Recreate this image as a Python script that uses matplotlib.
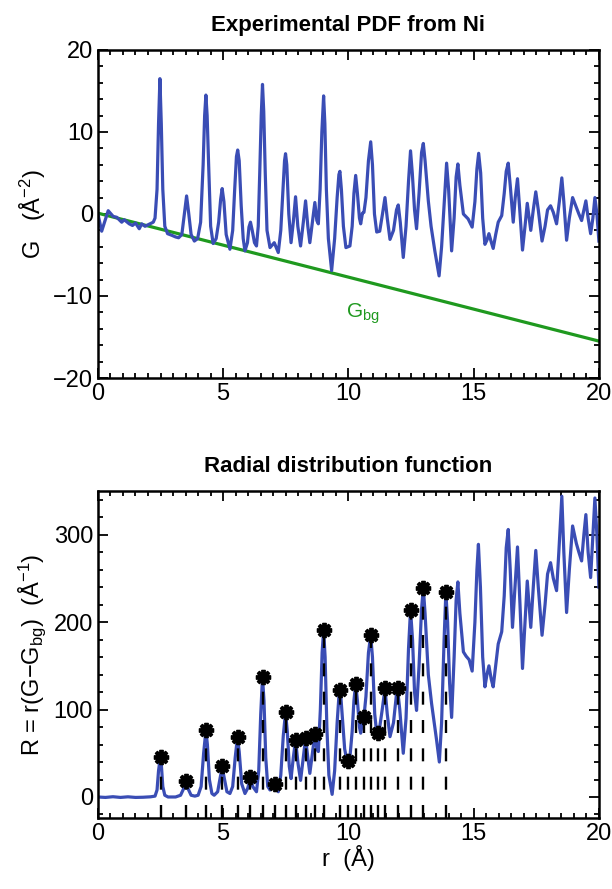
import numpy as np
import matplotlib
matplotlib.use('Agg')
import matplotlib.pyplot as plt
from matplotlib.ticker import MultipleLocator

plt.rcParams['font.family'] = ['Liberation Sans', 'DejaVu Sans']
plt.rcParams['mathtext.fontset'] = 'custom'
plt.rcParams['mathtext.rm'] = 'Liberation Sans'
plt.rcParams['mathtext.it'] = 'Liberation Sans'

# experimental G(r)
r_top = [0.0, 0.15, 0.41, 0.61, 0.75, 0.95, 1.05, 1.25, 1.38, 1.50, 1.65, 1.75, 1.88, 2.08, 2.21,
         2.28, 2.36, 2.42, 2.475, 2.53, 2.59, 2.67, 2.78, 2.95, 3.10, 3.22, 3.35, 3.45, 3.54, 3.62,
         3.72, 3.85, 3.98, 4.10, 4.20, 4.26, 4.31, 4.36, 4.42, 4.50, 4.60, 4.72, 4.82, 4.90, 4.96,
         5.03, 5.12, 5.27, 5.38, 5.46, 5.53, 5.58, 5.64, 5.72, 5.80, 5.87, 5.97, 6.03, 6.09, 6.16,
         6.25, 6.33, 6.40, 6.46, 6.52, 6.57, 6.62, 6.68, 6.75, 6.87, 7.04, 7.20, 7.30, 7.38, 7.45,
         7.49, 7.54, 7.62, 7.71, 7.80, 7.89, 7.98, 8.09, 8.20, 8.29, 8.38, 8.46, 8.56, 8.66, 8.74,
         8.80, 8.87, 8.94, 9.01, 9.06, 9.12, 9.20, 9.33, 9.45, 9.55, 9.62, 9.66, 9.72, 9.80, 9.90,
         10.06, 10.15, 10.22, 10.29, 10.36, 10.44, 10.49, 10.56, 10.62, 10.70, 10.80, 10.89, 10.96,
         11.04, 11.13, 11.25, 11.36, 11.46, 11.55, 11.66, 11.80, 11.92, 11.99, 12.07, 12.19, 12.30,
         12.40, 12.48, 12.55, 12.64, 12.72, 12.82, 12.92, 12.99, 13.06, 13.19, 13.30, 13.45, 13.62,
         13.72, 13.82, 13.92, 14.00, 14.12, 14.22, 14.30, 14.37, 14.45, 14.59, 14.78, 14.94, 15.05,
         15.13, 15.20, 15.28, 15.36, 15.45, 15.53, 15.61, 15.70, 15.78, 15.88, 15.98, 16.12, 16.22,
         16.30, 16.38, 16.46, 16.58, 16.66, 16.75, 16.84, 16.95, 17.05, 17.14, 17.28, 17.38, 17.48,
         17.58, 17.73, 17.85, 17.95, 18.07, 18.18, 18.31, 18.42, 18.52, 18.60, 18.71, 18.82, 18.95,
         19.10, 19.20, 19.31, 19.40, 19.48, 19.57, 19.67, 19.76, 19.84, 19.92, 20.0]
G_top = [0.0, -2.1, 0.4, -0.3, -0.4, -1.0, -0.7, -1.2, -1.4, -1.1, -1.8, -1.2, -1.5, -1.2, -1.0,
         -0.5, 3.0, 11.0, 16.5, 11.0, 3.0, -1.5, -2.4, -2.6, -2.8, -2.9, -2.5, 0.0, 2.2, 0.2,
         -2.5, -3.3, -3.0, -1.0, 6.0, 12.0, 14.5, 12.0, 6.0, -1.5, -3.6, -3.0, -1.0, 1.8, 3.1,
         1.5, -2.5, -4.3, -2.0, 3.0, 7.0, 7.8, 6.5, 1.0, -3.0, -4.5, -3.5, -1.6, -1.0, -2.0,
         -3.5, -3.9, -1.5, 5.0, 12.0, 15.8, 12.5, 5.0, -2.0, -4.1, -3.5, -4.7, -2.0, 2.5, 6.5,
         7.35, 6.0, 0.0, -3.5, -1.0, 2.1, -1.5, -3.9, -1.0, 1.6, -1.5, -3.5, -1.0, 1.4, -0.8,
         -1.2, 3.0, 10.0, 14.4, 11.0, 3.0, -3.0, -6.9, -3.0, 2.0, 4.8, 5.2, 3.0, -1.5, -4.1,
         -3.9, -1.5, 2.5, 4.7, 2.5, -0.5, -1.2, 0.1, 0.2, 2.0, 6.5, 8.8, 6.0,
         0.0, -2.2, -2.1, 0.0, 2.0, -0.5, -3.1, -2.0, 0.5, 1.1, -1.0, -5.3, -1.5,
         4.0, 7.7, 5.0, 0.5, -1.8, 2.5, 7.5, 8.6, 6.5, 1.6, -1.5, -4.5, -7.55,
         -4.0, 1.0, 6.2, 3.0, -4.5, -0.5, 4.5, 6.1, 3.5, 0.0, -0.6, -1.6, 1.5,
         5.5, 7.4, 5.0, -0.5, -3.7, -3.2, -2.4, -3.4, -4.2, -2.5, -1.0, -0.2, 2.5,
         5.2, 6.2, 3.5, -1.0, 2.0, 4.3, 0.5, -4.4, -1.5, 1.3, -2.0, 0.5, 2.7,
         0.5, -3.3, -1.5, 0.5, 1.0, 0.2, -1.2, 1.5, 4.4, 1.5, -3.2, -0.5, 2.0,
         0.8, 0.0, -0.8, 0.5, 1.6, -0.5, -2.4, -0.5, 2.0, 0.0, -3.3]

# background line G_bg
r_bg = [0.0, 20.0]
G_bg = [0.1, -15.5]

# radial distribution function R(r)
r_rdf = [0.0, 0.3, 0.6, 0.9, 1.2, 1.5, 1.8, 2.1, 2.28, 2.36, 2.42, 2.48, 2.53, 2.59, 2.67, 2.80,
         3.10, 3.30, 3.43, 3.51, 3.59, 3.72, 3.87, 4.00, 4.12, 4.22, 4.31, 4.37, 4.45, 4.55, 4.64,
         4.78, 4.88, 4.96, 5.04, 5.15, 5.27, 5.38, 5.48, 5.57, 5.64, 5.74, 5.87, 5.98, 6.09, 6.18,
         6.33, 6.42, 6.50, 6.57, 6.63, 6.70, 6.78, 6.87, 6.97, 7.07, 7.20, 7.30, 7.40, 7.49, 7.56,
         7.64, 7.71, 7.80, 7.89, 7.99, 8.09, 8.20, 8.29, 8.38, 8.46, 8.56, 8.66, 8.74, 8.80, 8.88,
         8.95, 9.01, 9.07, 9.14, 9.22, 9.35, 9.45, 9.55, 9.62, 9.68, 9.75, 9.85, 9.95, 10.05, 10.15,
         10.22, 10.29, 10.36, 10.44, 10.49, 10.56, 10.62, 10.70, 10.80, 10.89, 10.96, 11.05, 11.13,
         11.22, 11.35, 11.46, 11.55, 11.66, 11.80, 11.92, 11.96, 12.05, 12.19, 12.30, 12.40, 12.48,
         12.56, 12.64, 12.72, 12.82, 12.92, 12.99, 13.06, 13.19, 13.32, 13.52, 13.63, 13.72, 13.82,
         13.89, 13.96, 14.04, 14.12, 14.22, 14.30, 14.37, 14.45, 14.59, 14.70, 14.82, 14.94, 15.05,
         15.13, 15.19, 15.27, 15.36, 15.45, 15.53, 15.61, 15.70, 15.78, 15.88, 15.98, 16.12, 16.22,
         16.30, 16.38, 16.46, 16.55, 16.65, 16.75, 16.85, 16.95, 17.05, 17.14, 17.28, 17.38, 17.48,
         17.58, 17.73, 17.85, 17.95, 18.07, 18.18, 18.31, 18.40, 18.52, 18.60, 18.71, 18.82, 18.95,
         19.10, 19.20, 19.31, 19.40, 19.48, 19.57, 19.67, 19.76, 19.84, 19.92, 20.0]
R_rdf = [0.0, -0.5, 0.3, -0.5, 0.2, -0.5, -0.3, 0.2, 1.0, 8.0, 30.0, 43.0, 38.0, 12.0, 2.0, 0.0,
         0.0, 2.0, 10.0, 17.0, 10.0, 2.0, 1.0, 2.0, 12.0, 50.0, 76.0, 60.0, 20.0, 4.0, 2.0,
         6.0, 22.0, 34.0, 22.0, 6.0, 4.0, 12.0, 45.0, 68.0, 52.0, 15.0, 4.0, 10.0, 22.0, 12.0,
         6.0, 30.0, 95.0, 137.0, 110.0, 45.0, 12.0, 8.0, 12.0, 15.0, 6.0, 25.0, 70.0, 97.0, 75.0,
         35.0, 21.0, 45.0, 65.0, 38.0, 19.0, 45.0, 67.0, 45.0, 27.0, 50.0, 72.0, 55.0, 52.0, 100.0,
         165.0, 191.0, 160.0, 80.0, 25.0, 3.0, 30.0, 85.0, 115.0, 122.0, 95.0, 55.0, 40.0, 42.0, 75.0,
         110.0, 130.0, 110.0, 80.0, 73.0, 85.0, 92.0, 115.0, 165.0, 185.0, 160.0, 95.0, 73.0,
         74.0, 100.0, 124.0, 95.0, 69.0, 85.0, 118.0, 124.0, 100.0, 50.0, 90.0, 170.0, 214.0,
         180.0, 120.0, 99.0, 150.0, 215.0, 239.0, 210.0, 140.0, 107.0, 65.0, 40.0, 85.0, 180.0,
         234.0, 200.0, 130.0, 91.0, 160.0, 225.0, 246.0, 210.0, 166.0, 161.0, 157.0, 144.0, 200.0,
         260.0, 289.0, 240.0, 160.0, 126.0, 140.0, 150.0, 135.0, 126.0, 150.0, 175.0, 189.0, 230.0,
         285.0, 306.0, 260.0, 194.0, 240.0, 286.0, 220.0, 147.0, 200.0, 247.0, 194.0, 240.0, 282.0,
         240.0, 185.0, 220.0, 255.0, 268.0, 250.0, 236.0, 280.0, 344.0, 280.0, 211.0, 260.0, 310.0,
         290.0, 280.0, 270.0, 300.0, 323.0, 280.0, 251.0, 300.0, 342.0, 300.0, 240.0]

# marked peaks (stars + dashed drop lines)
r_peaks = [2.50, 3.51, 4.31, 4.96, 5.58, 6.09, 6.60, 7.07, 7.49, 7.89, 8.29, 8.66,
           9.01, 9.68, 10.00, 10.29, 10.62, 10.89, 11.19, 11.46, 11.96, 12.48, 12.99, 13.89]
R_peaks = [45.5, 17.8, 76.7, 34.9, 68.3, 22.8, 137.4, 15.1, 97.5, 65.3, 67.2, 72.0,
           191.3, 122.2, 40.6, 129.8, 91.8, 184.8, 72.9, 124.1, 124.1, 214.1, 239.0, 234.2]

blue = '#3a4db5'
green = '#1f991f'

fig = plt.figure(figsize=(6.12, 8.89), dpi=100)
ax1 = fig.add_axes([0.160, 0.5748, 0.8186, 0.3690])
ax2 = fig.add_axes([0.160, 0.0799, 0.8186, 0.3678])

ax1.plot(r_bg, G_bg, color=green, lw=2.3)
ax1.plot(r_top, G_top, color=blue, lw=2.3, solid_joinstyle='round')
ax1.text(9.9, -12.6, r'G$_{\mathrm{bg}}$', color=green, fontsize=15)
ax1.set_xlim(0, 20)
ax1.set_ylim(-20, 20)
ax1.set_title('Experimental PDF from Ni', fontsize=16, fontweight='bold', pad=14)
ax1.set_ylabel(r'G   (Å$^{-2}$)', fontsize=17, labelpad=4)
ax1.xaxis.set_major_locator(MultipleLocator(5))
ax1.xaxis.set_minor_locator(MultipleLocator(0.5))
ax1.yaxis.set_major_locator(MultipleLocator(10))
ax1.yaxis.set_minor_locator(MultipleLocator(2))

ax2.plot(r_rdf, R_rdf, color=blue, lw=2.3, solid_joinstyle='round', zorder=2)
ax2.vlines(r_peaks, -24, R_peaks, colors='k', lw=1.7, linestyles=(0, (5.5, 6.5)), zorder=3)
ax2.plot(r_peaks, R_peaks, ls='none', marker=(8, 2, 0), ms=11, mew=2.8, color='k', zorder=4)
ax2.plot(r_peaks, R_peaks, ls='none', marker='o', ms=6, color='k', zorder=4)
ax2.set_xlim(0, 20)
ax2.set_ylim(-24, 350)
ax2.set_title('Radial distribution function', fontsize=16, fontweight='bold', pad=14)
ax2.set_ylabel(r'R = r(G$-$G$_{\mathrm{bg}}$)  (Å$^{-1}$)', fontsize=17, labelpad=4)
ax2.set_xlabel('r  (Å)', fontsize=17, labelpad=0)
ax2.xaxis.set_major_locator(MultipleLocator(5))
ax2.xaxis.set_minor_locator(MultipleLocator(0.5))
ax2.yaxis.set_major_locator(MultipleLocator(100))
ax2.yaxis.set_minor_locator(MultipleLocator(20))

for ax in (ax1, ax2):
    for s in ax.spines.values():
        s.set_linewidth(1.8)
    ax.tick_params(which='both', direction='in', top=True, right=True, width=1.3, labelsize=17)
    ax.tick_params(which='major', length=7)
    ax.tick_params(which='minor', length=3.5)

fig.savefig('out.png', dpi=100)
